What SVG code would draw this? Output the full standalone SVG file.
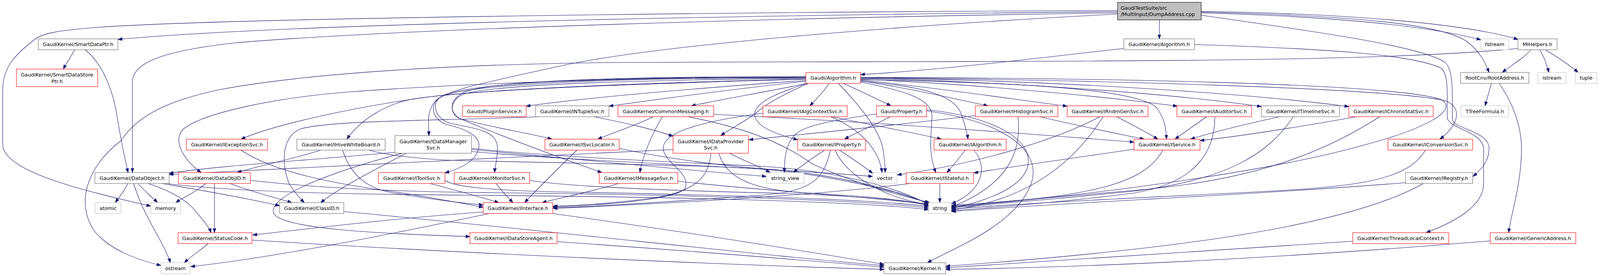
<svg xmlns="http://www.w3.org/2000/svg" width="4249" height="707" viewBox="0 0 4249 707">
<defs>
<marker id="arr" markerWidth="12" markerHeight="9" refX="11" refY="4" orient="auto" markerUnits="userSpaceOnUse"><path d="M0,0 L11,4 L0,8 z" fill="#191970" stroke="#191970" stroke-width="1"/></marker>
</defs>
<style>
.e{fill:none;stroke:#191970;stroke-width:1.1;marker-end:url(#arr)}
.node rect{fill:#ffffff;stroke-width:1.1}
.n rect{stroke:#666666}
.r rect{stroke:#ff0000}
.g rect{stroke:#bfbfbf}
.root rect{fill:#bfbfbf;stroke:#000000}
text{font-family:"DejaVu Sans","Liberation Sans",sans-serif;font-size:12.8px;fill:#000000;text-anchor:middle}
.l{text-anchor:start}
</style>
<rect x="0" y="0" width="4249" height="707" fill="#ffffff"/>
<g id="edges">
<path class="e" d="M2968,51 C2968,70 2968,85 2968,99.5"/>
<path class="e" d="M2861,30 C2200,36 800,55 302,101"/>
<path class="e" d="M2861,27 C2000,30 600,45 250,70 C150,78 110,85 90,100 C40,140 7,170 7,230 L7,370 C7,440 220,490 386,528"/>
<path class="e" d="M2861,33 C2000,45 1000,75 600,110 C420,130 339,160 339,210 L339,442"/>
<path class="e" d="M2861,36 C2400,60 1700,110 1430,170 C1250,210 1150,228 1115,258 C1092,285 1097,315 1098,347.5"/>
<path class="e" d="M3075,39 C3400,85 3640,120 3700,160 C3718,180 3718,220 3718,260 L3718,305 C3718,330 3812,335 3812,380 C3812,415 3790,435 3771,452"/>
<path class="e" d="M3075,31 C3450,40 3700,60 3760,110 C3790,135 3802,160 3812,185.5"/>
<path class="e" d="M3075,33 C3400,42 3650,65 3791,102"/>
<path class="e" d="M3075,29 C3450,35 3750,60 3886,101"/>
<path class="e" d="M2877,124 C2650,150 2400,180 2203,191"/>
<path class="e" d="M3058,114 C3400,125 3620,140 3690,175 C3705,190 3705,220 3705,260 L3705,300 C3705,330 3795,335 3798,380 L3798,470 C3798,530 3720,570 3651,596"/>
<path class="e" d="M191,127.5 C182,145 170,162 162,177"/>
<path class="e" d="M218,127.5 C260,160 290,230 300,300 C310,360 318,400 328,442"/>
<path class="e" d="M3919,127.5 C3900,150 3865,170 3846,185.5"/>
<path class="e" d="M3942,127.5 C3952,145 3960,165 3965,185.5"/>
<path class="e" d="M3956,127.5 C3990,148 4020,168 4040,185.5"/>
<path class="e" d="M3886,124 C3500,165 2500,155 1600,160 C1200,163 800,185 560,230 C420,260 350,300 310,360 C220,430 195,520 240,590 C280,640 350,665 412,680"/>
<path class="e" d="M3818,213.5 C3812,235 3806,255 3802,271"/>
<path class="e" d="M3838,213.5 C3870,260 3895,320 3895,380 C3895,470 3870,540 3862,596"/>
<path class="e" d="M2063,206 C1800,225 1500,250 1347,272"/>
<path class="e" d="M2063,208 C1900,226 1700,252 1559,272"/>
<path class="e" d="M2066,213.5 C1980,232 1850,254 1770,271"/>
<path class="e" d="M2123,213.5 C2110,232 2090,254 2073,271"/>
<path class="e" d="M2159,213.5 C2200,232 2250,256 2281,271"/>
<path class="e" d="M2146,213.5 C2200,270 2250,330 2260,380 C2265,410 2266,425 2266,442"/>
<path class="e" d="M2203,210 C2300,230 2390,250 2386,300 C2382,360 2378,400 2396,442"/>
<path class="e" d="M2203,208 C2350,220 2440,240 2460,290 C2470,320 2476,340 2478,356.5"/>
<path class="e" d="M2203,207 C2350,230 2450,255 2529,271"/>
<path class="e" d="M2203,205 C2400,225 2600,255 2732,272"/>
<path class="e" d="M2203,203 C2500,215 2850,250 3014,272"/>
<path class="e" d="M2203,204 C2500,210 2900,220 2960,275 C2980,300 2986,330 2986,356.5"/>
<path class="e" d="M2203,201 C2600,210 3000,240 3229,273"/>
<path class="e" d="M2203,200 C2700,205 3200,240 3453,273"/>
<path class="e" d="M2203,199 C2800,205 3550,225 3700,258 C3745,275 3735,320 3686,356.5"/>
<path class="e" d="M2203,198 C2800,200 3560,212 3690,255 C3735,282 3650,330 3490,372 C3250,440 2800,500 2436,530"/>
<path class="e" d="M2066,213.5 C2000,235 1930,260 1932,295 C1935,325 1990,345 2042,358"/>
<path class="e" d="M2070,213.5 C2020,235 1960,265 1935,290 C1900,315 1870,330 1845,347.5"/>
<path class="e" d="M2063,200 C1700,205 1300,212 1190,240 C1150,255 1150,290 1175,303 C1250,325 1350,340 1413,356.5"/>
<path class="e" d="M2063,199 C1700,200 1250,207 1135,245 C1100,260 1100,300 1140,318 C1200,332 1230,350 1226,378 C1220,410 1185,430 1139,443"/>
<path class="e" d="M2063,198 C1700,197 1250,203 1140,242 C1100,258 1110,300 1150,315 C1220,330 1270,335 1273,375 C1275,400 1268,420 1266,442"/>
<path class="e" d="M2063,197 C1700,195 1250,203 1185,238 C1148,258 1150,290 1180,305 C1300,355 1450,410 1541,442"/>
<path class="e" d="M2063,203 C1700,213 1300,225 1100,248 C900,275 700,320 617,356.5"/>
<path class="e" d="M2063,202 C1700,211 1200,228 1050,255 C980,270 920,310 888,356.5"/>
<path class="e" d="M2063,196 C1600,200 1200,213 900,235 C700,250 520,290 470,330 C440,360 470,410 515,442"/>
<path class="e" d="M327,470 C318,490 305,505 295,519"/>
<path class="e" d="M353,470 C370,490 390,505 403,519"/>
<path class="e" d="M342,470 C370,560 420,620 436,673"/>
<path class="e" d="M379,470 C440,490 480,515 500,540 C520,565 535,580 540,596"/>
<path class="e" d="M414,470 C500,485 620,505 716,527"/>
<path class="e" d="M425,470 C600,492 900,498 1200,500 C1700,504 2200,515 2377,537"/>
<path class="e" d="M527,470 C505,490 470,505 450,519"/>
<path class="e" d="M549,470 C549,510 549,550 549,596"/>
<path class="e" d="M589,470 C640,490 700,505 747,519"/>
<path class="e" d="M641,462 C800,480 1000,490 1200,493 C1700,498 2200,510 2377,533"/>
<path class="e" d="M821,384.5 C760,405 660,425 607,442"/>
<path class="e" d="M877,384.5 C895,440 930,480 1000,493 C1100,510 1180,520 1237,525"/>
<path class="e" d="M944,384.5 C1000,400 1100,410 1200,412 C1500,418 1800,425 1900,430 C2100,440 2300,490 2377,521"/>
<path class="e" d="M617,384.5 C700,440 850,470 1000,490 C1100,505 1180,520 1237,531"/>
<path class="e" d="M1011,390 C800,410 550,425 433,444"/>
<path class="e" d="M1040,392.5 C960,435 870,480 821,519"/>
<path class="e" d="M1030,392.5 C850,440 690,500 700,545 C715,585 950,598 1203,606"/>
<path class="e" d="M1207,383 C1500,410 1800,440 1962,452"/>
<path class="e" d="M1207,380 C1450,405 1800,418 1950,426 C2100,434 2280,470 2377,524"/>
<path class="e" d="M1207,388 C1500,415 1900,425 2234,452"/>
<path class="e" d="M1520,299 C1600,315 1670,330 1723,349"/>
<path class="e" d="M1380,299 C1100,310 850,308 770,330 C720,350 720,420 740,470 C755,495 770,510 779,519"/>
<path class="e" d="M1673,299 C1630,320 1570,340 1530,356.5"/>
<path class="e" d="M1696,299 C1670,340 1645,400 1638,442"/>
<path class="e" d="M1827,293 C2200,310 2600,340 2903,364"/>
<path class="e" d="M1761,299 C1920,330 2010,370 2080,420 C2200,475 2320,505 2380,519"/>
<path class="e" d="M2129,299 C2230,320 2340,340 2410,356.5"/>
<path class="e" d="M2126,299 C2200,330 2250,380 2258,442"/>
<path class="e" d="M1953,290 C1800,310 1680,340 1700,390 C1715,425 1765,445 1755,480 C1745,510 1550,525 1416,530"/>
<path class="e" d="M2279,299 C2240,320 2190,340 2162,356.5"/>
<path class="e" d="M2244,292 C2150,305 2060,320 2035,345 C2012,370 2008,400 2008,442"/>
<path class="e" d="M2372,281 C2550,300 2650,360 2630,430 C2610,490 2500,520 2436,534"/>
<path class="e" d="M2372,284 C2560,310 2670,380 2640,470 C2600,580 2430,640 2374,673"/>
<path class="e" d="M2149,384.5 C2180,405 2210,425 2234,444"/>
<path class="e" d="M2138,384.5 C2160,440 2250,505 2377,524"/>
<path class="e" d="M2111,384.5 C2080,405 2050,425 2031,442"/>
<path class="e" d="M2126,384.5 C2110,450 2090,490 1950,500 C1700,518 1500,530 1416,532"/>
<path class="e" d="M1723,383 C1300,405 800,425 433,447"/>
<path class="e" d="M1868,392.5 C1900,410 1940,425 1972,442"/>
<path class="e" d="M1840,392.5 C1860,455 1920,490 2100,496 C2250,505 2340,515 2377,527"/>
<path class="e" d="M1820,392.5 C1815,455 1780,495 1650,510 C1550,522 1470,527 1416,528"/>
<path class="e" d="M1477,384.5 C1430,430 1380,480 1343,519"/>
<path class="e" d="M1585,380 C1700,405 1850,425 1950,432 C2080,440 2250,470 2377,521"/>
<path class="e" d="M1100,470 C1160,485 1230,505 1277,519"/>
<path class="e" d="M1139,462 C1160,478 1250,488 1450,492 C1900,500 2250,512 2377,529"/>
<path class="e" d="M1270,470 C1285,490 1300,505 1313,519"/>
<path class="e" d="M1356,462 C1450,478 1700,488 2000,495 C2200,502 2330,515 2377,526"/>
<path class="e" d="M1583,470 C1520,490 1440,505 1388,519"/>
<path class="e" d="M1735,464 C1900,485 2250,505 2377,524"/>
<path class="e" d="M2406,470 C2406,490 2406,505 2406,519"/>
<path class="e" d="M2330,470 C2100,500 1700,522 1416,534"/>
<path class="e" d="M2471,384.5 C2455,405 2440,425 2424,442"/>
<path class="e" d="M2493,384.5 C2525,420 2525,485 2436,522"/>
<path class="e" d="M2904,382 C2750,405 2600,425 2493,443"/>
<path class="e" d="M2977,384.5 C2930,470 2800,505 2436,526"/>
<path class="e" d="M2859,299 C2895,318 2935,338 2964,356.5"/>
<path class="e" d="M2816,299 C2700,360 2500,420 2297,448"/>
<path class="e" d="M2824,299 C2760,400 2650,510 2436,538"/>
<path class="e" d="M2497,296 C2300,320 2100,340 1917,358"/>
<path class="e" d="M2662,299 C2750,320 2850,340 2929,356.5"/>
<path class="e" d="M2606,299 C2615,380 2590,470 2436,530"/>
<path class="e" d="M3089,299 C3060,320 3030,340 3008,356.5"/>
<path class="e" d="M3110,299 C3110,390 3060,470 2900,495 C2700,520 2550,530 2436,540"/>
<path class="e" d="M3276,299 C3180,320 3100,340 3048,356.5"/>
<path class="e" d="M3311,299 C3250,390 3150,460 2900,490 C2700,510 2550,522 2436,532"/>
<path class="e" d="M3472,299 C3300,330 3150,352 3072,360"/>
<path class="e" d="M3532,299 C3420,370 3250,460 2900,488 C2700,505 2550,518 2436,528"/>
<path class="e" d="M3649,384.5 C3600,470 3450,480 3150,495 C2800,512 2550,525 2436,536"/>
<path class="e" d="M3598,468 C3200,500 2700,520 2436,542"/>
<path class="e" d="M3644,470 C3450,580 3000,640 2421,682"/>
<path class="e" d="M3463,618 C3000,650 2700,670 2421,686"/>
<path class="e" d="M3815,617 C3300,660 2800,685 2421,690"/>
<path class="e" d="M880,542 C1400,590 2000,660 2263,680"/>
<path class="e" d="M1237,543 C1000,560 800,585 647,602"/>
<path class="e" d="M1253,547 C1000,600 700,660 488,683"/>
<path class="e" d="M1415,547 C1800,600 2100,650 2263,677"/>
<path class="e" d="M1426,619 C1800,645 2100,670 2263,684"/>
<path class="e" d="M533,624 C515,640 490,655 472,673"/>
<path class="e" d="M645,615 C1200,650 1900,680 2263,690"/>
</g>
<g id="node-main" class="node root"><rect x="2861" y="6" width="214" height="45"/><text class="l" x="2869" y="24.5">GaudiTestSuite/src</text><text class="l" x="2869" y="41">/MultiInput/DumpAddress.cpp</text></g>
<g id="node-gkalg" class="node n"><rect x="2877" y="99.5" width="181" height="28"/><text x="2967.5" y="118">GaudiKernel/Algorithm.h</text></g>
<g id="node-sdp" class="node n"><rect x="98" y="99.5" width="204" height="28"/><text x="200" y="118">GaudiKernel/SmartDataPtr.h</text></g>
<g id="node-fstream" class="node g"><rect x="3791" y="99.5" width="71" height="28"/><text x="3826.5" y="118">fstream</text></g>
<g id="node-mihelpers" class="node n"><rect x="3886" y="99.5" width="100" height="28"/><text x="3936" y="118">MIHelpers.h</text></g>
<g id="node-sdsp" class="node r"><rect x="42" y="177" width="208" height="45"/><text x="146" y="196">GaudiKernel/SmartDataStore</text><text x="146" y="212.5">Ptr.h</text></g>
<g id="node-galg" class="node r"><rect x="2063" y="185.5" width="140" height="28"/><text x="2133" y="204">Gaudi/Algorithm.h</text></g>
<g id="node-rootaddress" class="node n"><rect x="3739" y="185.5" width="175" height="28"/><text x="3826.5" y="204">RootCnv/RootAddress.h</text></g>
<g id="node-istream" class="node g"><rect x="3937" y="185.5" width="72" height="28"/><text x="3973" y="204">istream</text></g>
<g id="node-tuple" class="node g"><rect x="4033" y="185.5" width="55" height="28"/><text x="4060.5" y="204">tuple</text></g>
<g id="node-pluginservice" class="node r"><rect x="1184" y="271" width="163" height="28"/><text x="1265.5" y="289.5">Gaudi/PluginService.h</text></g>
<g id="node-intuplesvc" class="node n"><rect x="1371" y="271" width="188" height="28"/><text x="1465" y="289.5">GaudiKernel/INTupleSvc.h</text></g>
<g id="node-commonmessaging" class="node r"><rect x="1582" y="271" width="245" height="28"/><text x="1704.5" y="289.5">GaudiKernel/CommonMessaging.h</text></g>
<g id="node-ialgcontextsvc" class="node r"><rect x="1953" y="271" width="216" height="28"/><text x="2061" y="289.5">GaudiKernel/IAlgContextSvc.h</text></g>
<g id="node-property" class="node r"><rect x="2244" y="271" width="128" height="28"/><text x="2308" y="289.5">Gaudi/Property.h</text></g>
<g id="node-ihistogramsvc" class="node r"><rect x="2497" y="271" width="211" height="28"/><text x="2602.5" y="289.5">GaudiKernel/IHistogramSvc.h</text></g>
<g id="node-irndmgensvc" class="node r"><rect x="2732" y="271" width="207" height="28"/><text x="2835.5" y="289.5">GaudiKernel/IRndmGenSvc.h</text></g>
<g id="node-iauditorsvc" class="node r"><rect x="3013" y="271" width="191" height="28"/><text x="3108.5" y="289.5">GaudiKernel/IAuditorSvc.h</text></g>
<g id="node-itimelinesvc" class="node n"><rect x="3229" y="271" width="200" height="28"/><text x="3329" y="289.5">GaudiKernel/ITimelineSvc.h</text></g>
<g id="node-ichronostatsvc" class="node r"><rect x="3453" y="271" width="216" height="28"/><text x="3561" y="289.5">GaudiKernel/IChronoStatSvc.h</text></g>
<g id="node-ttreeformula" class="node g"><rect x="3740" y="271" width="122" height="28"/><text x="3801" y="289.5">TTreeFormula.h</text></g>
<g id="node-iexceptionsvc" class="node r"><rect x="477" y="356.5" width="208" height="28"/><text x="581" y="375">GaudiKernel/IExceptionSvc.h</text></g>
<g id="node-ihivewhiteboard" class="node n"><rect x="760" y="356.5" width="226" height="28"/><text x="873" y="375">GaudiKernel/IHiveWhiteBoard.h</text></g>
<g id="node-idatamanagersvc" class="node n"><rect x="1011" y="347.5" width="196" height="45"/><text x="1109" y="366.5">GaudiKernel/IDataManager</text><text x="1109" y="383">Svc.h</text></g>
<g id="node-isvclocator" class="node r"><rect x="1395" y="356.5" width="190" height="28"/><text x="1490" y="375">GaudiKernel/ISvcLocator.h</text></g>
<g id="node-idataprovidersvc" class="node r"><rect x="1723" y="347.5" width="193" height="45"/><text x="1819.5" y="366.5">GaudiKernel/IDataProvider</text><text x="1819.5" y="383">Svc.h</text></g>
<g id="node-iproperty" class="node r"><rect x="2042" y="356.5" width="174" height="28"/><text x="2129" y="375">GaudiKernel/IProperty.h</text></g>
<g id="node-ialgorithm" class="node r"><rect x="2391" y="356.5" width="185" height="28"/><text x="2483.5" y="375">GaudiKernel/IAlgorithm.h</text></g>
<g id="node-iservice" class="node r"><rect x="2903" y="356.5" width="169" height="28"/><text x="2987.5" y="375">GaudiKernel/IService.h</text></g>
<g id="node-iconversionsvc" class="node r"><rect x="3553" y="356.5" width="217" height="28"/><text x="3661.5" y="375">GaudiKernel/IConversionSvc.h</text></g>
<g id="node-dataobject" class="node n"><rect x="243" y="442" width="190" height="28"/><text x="338" y="460.5">GaudiKernel/DataObject.h</text></g>
<g id="node-dataobjid" class="node r"><rect x="457" y="442" width="184" height="28"/><text x="549" y="460.5">GaudiKernel/DataObjID.h</text></g>
<g id="node-itoolsvc" class="node r"><rect x="969" y="442" width="170" height="28"/><text x="1054" y="460.5">GaudiKernel/IToolSvc.h</text></g>
<g id="node-imonitorsvc" class="node r"><rect x="1163" y="442" width="193" height="28"/><text x="1259.5" y="460.5">GaudiKernel/IMonitorSvc.h</text></g>
<g id="node-imessagesvc" class="node r"><rect x="1534" y="442" width="201" height="28"/><text x="1634.5" y="460.5">GaudiKernel/IMessageSvc.h</text></g>
<g id="node-string_view" class="node g"><rect x="1962" y="442" width="96" height="28"/><text x="2010" y="460.5">string_view</text></g>
<g id="node-vector" class="node g"><rect x="2234" y="442" width="62" height="28"/><text x="2265" y="460.5">vector</text></g>
<g id="node-istateful" class="node r"><rect x="2320" y="442" width="172" height="28"/><text x="2406" y="460.5">GaudiKernel/IStateful.h</text></g>
<g id="node-iregistry" class="node n"><rect x="3598" y="442" width="172" height="28"/><text x="3684" y="460.5">GaudiKernel/IRegistry.h</text></g>
<g id="node-atomic" class="node g"><rect x="244" y="519" width="65" height="28"/><text x="276.5" y="537.5">atomic</text></g>
<g id="node-memory" class="node g"><rect x="386" y="519" width="76" height="28"/><text x="424" y="537.5">memory</text></g>
<g id="node-classid" class="node n"><rect x="716" y="519" width="164" height="28"/><text x="798" y="537.5">GaudiKernel/ClassID.h</text></g>
<g id="node-iinterface" class="node r"><rect x="1237" y="519" width="178" height="28"/><text x="1326" y="537.5">GaudiKernel/IInterface.h</text></g>
<g id="node-string" class="node g"><rect x="2377" y="519" width="58" height="28"/><text x="2406" y="537.5">string</text></g>
<g id="node-statuscode" class="node r"><rect x="456" y="596" width="189" height="28"/><text x="550.5" y="614.5">GaudiKernel/StatusCode.h</text></g>
<g id="node-idatastoreagent" class="node r"><rect x="1203" y="596" width="223" height="28"/><text x="1314.5" y="614.5">GaudiKernel/IDataStoreAgent.h</text></g>
<g id="node-threadlocalcontext" class="node r"><rect x="3463" y="596" width="246" height="28"/><text x="3586" y="614.5">GaudiKernel/ThreadLocalContext.h</text></g>
<g id="node-genericaddress" class="node r"><rect x="3815" y="596" width="219" height="28"/><text x="3924.5" y="614.5">GaudiKernel/GenericAddress.h</text></g>
<g id="node-ostream" class="node g"><rect x="412" y="673" width="74" height="28"/><text x="449" y="691.5">ostream</text></g>
<g id="node-kernel" class="node n"><rect x="2263" y="673" width="158" height="28"/><text x="2342" y="691.5">GaudiKernel/Kernel.h</text></g>
</svg>
